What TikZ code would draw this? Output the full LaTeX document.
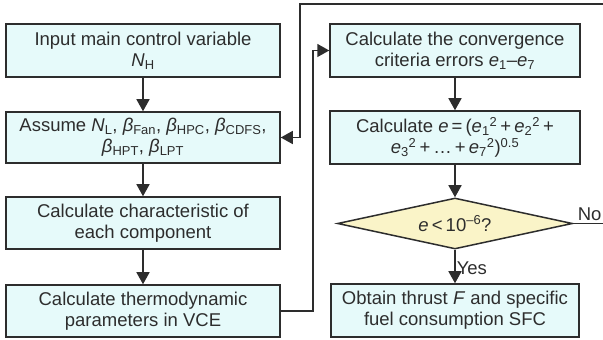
\documentclass[tikz,border=0pt]{standalone}
\usepackage{fontspec}
\setmainfont{Liberation Sans}
\usetikzlibrary{shapes.geometric,arrows.meta}
\definecolor{boxfill}{RGB}{230,250,250}
\definecolor{dfill}{RGB}{250,244,200}
\definecolor{ink}{RGB}{45,45,45}
\begin{document}
\begin{tikzpicture}[x=1pt,y=1pt,
  every node/.style={text=ink,font=\fontsize{18.5}{21}\selectfont},
  procbox/.style={draw=ink,line width=1.5pt,fill=boxfill,rectangle,inner sep=0pt,align=center},
  decbox/.style={draw=ink,line width=1.5pt,fill=dfill,diamond,inner sep=0pt,minimum width=235,minimum height=51,aspect=4.6},
  arr/.style={draw=ink,line width=1.5pt,-{Triangle[length=12pt,width=13pt]}}]
\useasboundingbox (0,0) rectangle (603,340);
\node[procbox,minimum width=274,minimum height=53] (b1) at (143,289.5) {Input main control variable\\\textit{N}\textsubscript{H}};
\node[procbox,minimum width=274,minimum height=51] (b2) at (143,202.5) {Assume \textit{N}\textsubscript{L}, \textit{β}\textsubscript{Fan}, \textit{β}\textsubscript{HPC}, \textit{β}\textsubscript{CDFS},\\\textit{β}\textsubscript{HPT}, \textit{β}\textsubscript{LPT}};
\node[procbox,minimum width=274,minimum height=52] (b3) at (143,117) {Calculate characteristic of\\each component};
\node[procbox,minimum width=274,minimum height=52] (b4) at (143,29) {Calculate thermodynamic\\parameters in VCE};
\node[procbox,minimum width=250,minimum height=53] (r1) at (455,289.5) {Calculate the convergence\\criteria errors \textit{e}\textsubscript{1}–\textit{e}\textsubscript{7}};
\node[procbox,minimum width=250,minimum height=53] (r2) at (455,202.5) {Calculate \textit{e}\,=\,(\textit{e}\textsubscript{1}\textsuperscript{2}\,+\,\textit{e}\textsubscript{2}\textsuperscript{2}\,+\\\textit{e}\textsubscript{3}\textsuperscript{2}\,+\,…\,+\,\textit{e}\textsubscript{7}\textsuperscript{2})\textsuperscript{0.5}};
\node[decbox] (d) at (455,116.5) {\textit{e}\,<\,10\textsuperscript{–6}?};
\node[procbox,minimum width=248,minimum height=53] (r3) at (455,29.5) {Obtain thrust \textit{F} and specific\\fuel consumption SFC};
\coordinate (cl) at (313,0);
\coordinate (cr) at (606,0);
\coordinate (ctop) at (0,336);
\coordinate (cb) at (300,0);
\draw[arr] (b1.south) -- (b2.north);
\draw[arr] (b2.south) -- (b3.north);
\draw[arr] (b3.south) -- (b4.north);
\draw[arr] (r1.south) -- (r2.north);
\draw[arr] (r2.south) -- (d.north);
\draw[arr] (d.south) -- node[right,inner sep=1pt,yshift=-2pt] (yes) {Yes} (r3.north);
\draw[arr] (b4.east) -- (b4.east -| cl) -- (r1.west -| cl) -- (r1.west);
\draw[arr] (d.east) -- node[above,inner sep=2pt] (no) {No} (d.east -| cr) -- (ctop -| cr) -- (ctop -| cb) -- (b2.east -| cb) -- (b2.east);
\end{tikzpicture}
\end{document}
